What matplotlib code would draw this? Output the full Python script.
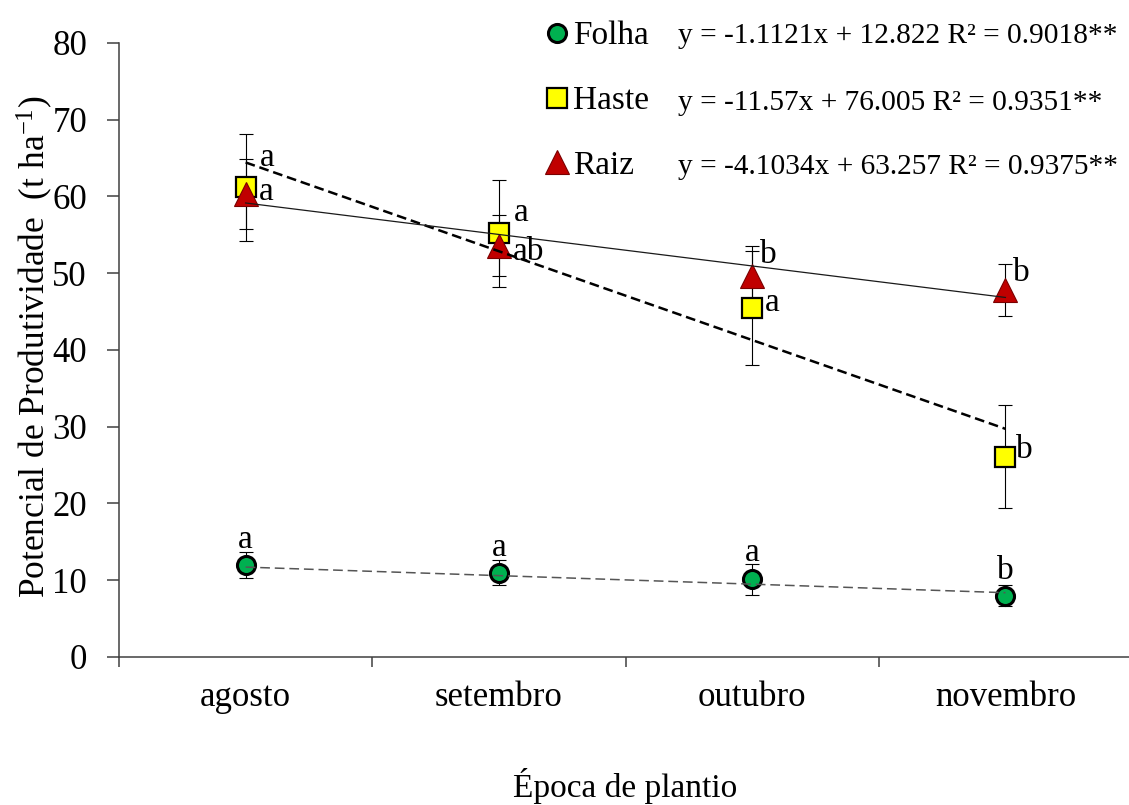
import matplotlib
matplotlib.use("Agg")
import matplotlib.pyplot as plt
from matplotlib.lines import Line2D
import numpy as np

plt.rcParams["font.family"] = "Liberation Serif"
plt.rcParams["mathtext.fontset"] = "custom"
plt.rcParams["mathtext.rm"] = "Liberation Serif"
plt.rcParams["mathtext.it"] = "Liberation Serif:italic"
plt.rcParams["lines.scale_dashes"] = False

meses = ["agosto", "setembro", "outubro", "novembro"]

folha = [12.0, 11.0, 10.1, 8.0]
folha_err = [1.65, 1.65, 2.0, 1.35]
haste = [61.2, 55.2, 45.5, 26.1]
haste_err = [7.0, 7.0, 7.4, 6.7]
raiz = [60.3, 53.6, 49.6, 47.8]
raiz_err = [4.6, 4.0, 4.0, 3.4]

# linear fits (x = 1..4)
folha_fit = (-1.1121, 12.822, 0.9018)
haste_fit = (-11.57, 76.005, 0.9351)
raiz_fit = (-4.1034, 63.257, 0.9375)

folha_letras = ["a", "a", "a", "b"]
haste_letras = ["a", "a", "a", "b"]
raiz_letras = ["a", "ab", "b", "b"]

# label offsets in pixels (dx, dy)
folha_off = [(0, 25), (0, 25), (0, 27), (0, 25)]
haste_off = [(22, 30), (22, 21), (20, 5), (19, 7)]
raiz_off = [(21, 2), (30, -6), (16, 22), (16, 17)]

fig = plt.figure(figsize=(11.29, 8.05), dpi=100)
ax = fig.add_axes([0.1054, 0.1839, 0.8973, 0.7627])

x = np.arange(len(meses)) + 0.5
xi = np.arange(1, len(meses) + 1)

eb = dict(fmt="none", ecolor="black", elinewidth=0.8, capsize=5, capthick=0.8, zorder=2)
ax.errorbar(x, haste, yerr=haste_err, **eb)
ax.errorbar(x, raiz, yerr=raiz_err, **eb)
ax.errorbar(x, folha, yerr=folha_err, **eb)

sty_haste = dict(marker="s", markersize=15, markerfacecolor="#FFFF00",
                 markeredgecolor="black", markeredgewidth=1.6, linestyle="none")
sty_raiz = dict(marker="^", markersize=17, markerfacecolor="#C00000",
                markeredgecolor="#7a0000", markeredgewidth=0.8, linestyle="none")
sty_folha = dict(marker="o", markersize=13, markerfacecolor="#00B050",
                 markeredgecolor="black", markeredgewidth=2.2, linestyle="none")

ax.plot(x, haste, zorder=3, **sty_haste)
ax.plot(x, raiz, zorder=3.5, **sty_raiz)
ax.plot(x, folha, zorder=3, **sty_folha)

# trend lines
ax.plot(x, haste_fit[0] * xi + haste_fit[1], color="black", lw=1.8,
        dashes=(7, 3.5), zorder=4)
ax.plot(x, raiz_fit[0] * xi + raiz_fit[1], color="#1a1a1a", lw=0.9, zorder=4)
ax.plot(x, folha_fit[0] * xi + folha_fit[1], color="#555555", lw=1.1,
        dashes=(7, 3.5), zorder=4)

for vals, letras, offs in [(folha, folha_letras, folha_off),
                           (haste, haste_letras, haste_off),
                           (raiz, raiz_letras, raiz_off)]:
    for xv, v, l, o in zip(x, vals, letras, offs):
        ax.annotate(l, (xv, v), xytext=o, textcoords="offset pixels",
                    ha="center", va="center", fontsize=24, zorder=5)

ax.set_xlim(0, 4)
ax.set_ylim(0, 80)
ax.set_yticks(range(0, 81, 10))
ax.set_xticks(range(0, 5))
ax.set_xticklabels([])
ax.set_xticks(x, minor=True)
ax.set_xticklabels(meses, minor=True)
ax.tick_params(axis="x", which="minor", length=0, pad=17, labelsize=25)
ax.tick_params(axis="x", which="major", length=7, width=1.1, color="#404040", direction="out")
ax.tick_params(axis="y", length=9, width=1.1, color="#404040", direction="out", pad=14, labelsize=25)
ax.spines["top"].set_visible(False)
ax.spines["right"].set_visible(False)
for s in ("left", "bottom"):
    ax.spines[s].set_color("#404040")
    ax.spines[s].set_linewidth(1.1)

fig.text(35 / 1129, 1 - 347 / 805, "Potencial de Produtividade  (t ha$^{\\mathrm{-1}}$)",
         rotation=90, ha="center", va="center", fontsize=25.5)
fig.text(625 / 1129, 1 - 786 / 805, "Época de plantio", ha="center", va="center", fontsize=24)

handles = [Line2D([], [], **sty_folha), Line2D([], [], **sty_haste), Line2D([], [], **sty_raiz)]
fig.legend(handles, ["Folha", "Haste", "Raiz"], loc="upper left",
           bbox_to_anchor=(547 / 1129, 1 - 21 / 805), frameon=False, fontsize=24,
           handlelength=0.6, handletextpad=0.18, borderpad=0, borderaxespad=0,
           labelspacing=1.03)

rows = [36, 103, 167]
for (a, b, r2), yy in zip([folha_fit, haste_fit, raiz_fit], rows):
    fig.text(678 / 1129, 1 - yy / 805, f"y = {a}x + {b:.3f} R² = {r2:.4f}**",
             ha="left", va="center", fontsize=21.2)

fig.savefig("out.png", dpi=100)
